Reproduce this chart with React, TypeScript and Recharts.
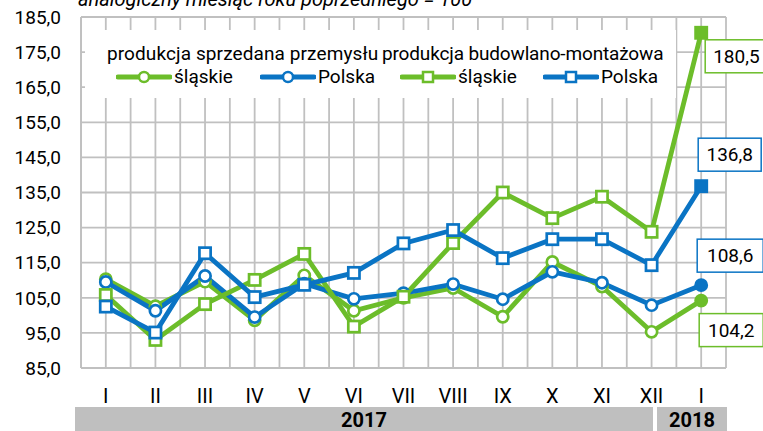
import { LineChart, Line, XAxis, YAxis, CartesianGrid, Legend, LabelList } from "recharts";

const months = ["I", "II", "III", "IV", "V", "VI", "VII", "VIII", "IX", "X", "XI", "XII", "I"];
const sprzedanaSlaskie = [110.3, 102.6, 109.6, 98.6, 111.4, 101.3, 105.0, 107.8, 99.6, 115.2, 108.2, 95.3, 104.2];
const sprzedanaPolska = [109.5, 101.3, 111.2, 99.5, 109.0, 104.7, 106.3, 108.9, 104.6, 112.4, 109.3, 102.9, 108.6];
const budowlanaSlaskie = [105.8, 93.0, 103.2, 110.1, 117.5, 96.8, 105.3, 120.6, 135.0, 127.7, 133.8, 123.8, 180.5];
const budowlanaPolska = [102.5, 95.1, 117.7, 105.2, 108.7, 112.1, 120.5, 124.3, 116.3, 121.7, 121.7, 114.3, 136.8];
const yTicks = [85, 95, 105, 115, 125, 135, 145, 155, 165, 175, 185];
const years = ["2017", "2018"];
const title = "analogiczny miesiąc roku poprzedniego = 100";

const GREEN = "#6cbd2a";
const BLUE = "#0a74c4";
const FONT = "Roboto, 'Open Sans', sans-serif";

const rows = months.map((m, i) => ({
  i,
  m,
  ss: sprzedanaSlaskie[i],
  sp: sprzedanaPolska[i],
  bs: budowlanaSlaskie[i],
  bp: budowlanaPolska[i],
}));
const xTicks = rows.map((r) => r.i);

const fmt = (v: number) => v.toFixed(1).replace(".", ",");
const last = months.length - 1;

const makeDot = (color: string, shape: "circle" | "square") => (p: any) => {
  const { cx, cy, index } = p;
  const fill = index === last ? color : "#fff";
  if (shape === "circle")
    return <circle key={index} cx={cx} cy={cy} r={5.6} fill={fill} stroke={color} strokeWidth={2.7} />;
  return <rect key={index} x={cx - 5.6} y={cy - 5.6} width={11.2} height={11.2} fill={fill} stroke={color} strokeWidth={2.7} />;
};

const makeLabel = (color: string, dx: number, dy: number, w: number, left?: boolean) => (p: any) => {
  const { x, y, index, value } = p;
  if (index !== last) return null;
  const bx = x + dx, by = y + dy;
  return (
    <g>
      <rect x={bx} y={by} width={w} height={33} fill="#fff" stroke={color} strokeWidth={1.5} />
      <text x={left ? bx + 8 : bx + w / 2} y={by + 23} textAnchor={left ? "start" : "middle"}
        fontSize={19} fontFamily={FONT} fill="#000">{fmt(value)}</text>
    </g>
  );
};

const LegendIcon = ({ color, shape }: { color: string; shape: "circle" | "square" }) => (
  <svg width={56} height={14} style={{ display: "block" }}>
    <line x1={2} y1={7} x2={54} y2={7} stroke={color} strokeWidth={5} strokeLinecap="round" />
    {shape === "circle"
      ? <circle cx={28} cy={7} r={5} fill="#fff" stroke={color} strokeWidth={2.5} />
      : <rect x={23} y={2} width={10} height={10} fill="#fff" stroke={color} strokeWidth={2.5} />}
  </svg>
);

const item = (left: number, color: string, shape: "circle" | "square", label: string) => (
  <div style={{ position: "absolute", left, top: 36, display: "flex", alignItems: "center", gap: 2 }}>
    <LegendIcon color={color} shape={shape} />
    <span>{label}</span>
  </div>
);

const renderLegend = () => (
  <div style={{ position: "relative", width: 591, height: 68, fontFamily: FONT, fontSize: 19, color: "#000", lineHeight: "22px", whiteSpace: "nowrap" }}>
    <div style={{ position: "absolute", left: 22, top: 13, letterSpacing: 0.1 }}>produkcja sprzedana przemysłu</div>
    <div style={{ position: "absolute", left: 297, top: 13, letterSpacing: -0.15 }}>produkcja budowlano-montażowa</div>
    {item(31, GREEN, "circle", "śląskie")}
    {item(175, BLUE, "circle", "Polska")}
    {item(315, GREEN, "square", "śląskie")}
    {item(458, BLUE, "square", "Polska")}
  </div>
);

export default function App() {
  return (
    <div style={{ position: "absolute", left: 0, top: 0, width: 763, height: 431, background: "#fff", overflow: "hidden", fontFamily: FONT }}>
      <div style={{ position: "absolute", left: 75, top: 407, width: 578, height: 24, background: "#bfbfbf", textAlign: "center", fontWeight: 700, fontSize: 20, lineHeight: "26px" }}>{years[0]}</div>
      <div style={{ position: "absolute", left: 657, top: 407, width: 70, height: 24, background: "#bfbfbf", textAlign: "center", fontWeight: 700, fontSize: 20, lineHeight: "26px" }}>{years[1]}</div>
      <svg width={763} height={20} style={{ position: "absolute", left: 0, top: 0 }}>
        <text x={78} y={6} fontSize={20} fontStyle="italic" fontFamily={FONT} fill="#000">{title}</text>
      </svg>
      <div style={{ position: "absolute", left: 0, top: 0 }}>
        <LineChart width={763} height={431} data={rows} margin={{ top: 17, right: 37, bottom: 26, left: 0 }}>
          <CartesianGrid stroke="#c0c0c0" strokeWidth={1.8}
            verticalCoordinatesGenerator={({ offset }: any) =>
              Array.from({ length: months.length * 2 + 1 }, (_, k) => offset.left + (k * offset.width) / (months.length * 2))} />
          <XAxis dataKey="i" type="number" domain={[-0.5, last + 0.5]} ticks={xTicks} height={37} tickSize={0} tickMargin={21}
            axisLine={{ stroke: "#c0c0c0", strokeWidth: 1.8 }} interval={0} tickFormatter={(v: number) => months[v]}
            tick={{ fill: "#000", fontSize: 20, fontFamily: FONT }} />
          <YAxis domain={[85, 185]} ticks={yTicks} width={81} tickSize={0} tickMargin={20}
            axisLine={{ stroke: "#c0c0c0", strokeWidth: 1.8 }} tickFormatter={fmt}
            tick={{ fill: "#000", fontSize: 19, fontFamily: FONT }} />
          <Legend layout="horizontal" verticalAlign="middle" align="center" content={renderLegend}
            wrapperStyle={{ position: "absolute", left: 85, top: 30, width: 591, height: 68, background: "#fff" }} />
          <Line dataKey="ss" stroke={GREEN} strokeWidth={4.8} dot={makeDot(GREEN, "circle")} isAnimationActive={false}>
            <LabelList dataKey="ss" content={makeLabel(GREEN, -2, 13, 64)} />
          </Line>
          <Line dataKey="sp" stroke={BLUE} strokeWidth={4.8} dot={makeDot(BLUE, "circle")} isAnimationActive={false}>
            <LabelList dataKey="sp" content={makeLabel(BLUE, -4, -46, 66)} />
          </Line>
          <Line dataKey="bs" stroke={GREEN} strokeWidth={4.8} dot={makeDot(GREEN, "square")} isAnimationActive={false}>
            <LabelList dataKey="bs" content={makeLabel(GREEN, 4, 7, 64, true)} />
          </Line>
          <Line dataKey="bp" stroke={BLUE} strokeWidth={4.8} dot={makeDot(BLUE, "square")} isAnimationActive={false}>
            <LabelList dataKey="bp" content={makeLabel(BLUE, -3, -48, 63)} />
          </Line>
        </LineChart>
      </div>
    </div>
  );
}
